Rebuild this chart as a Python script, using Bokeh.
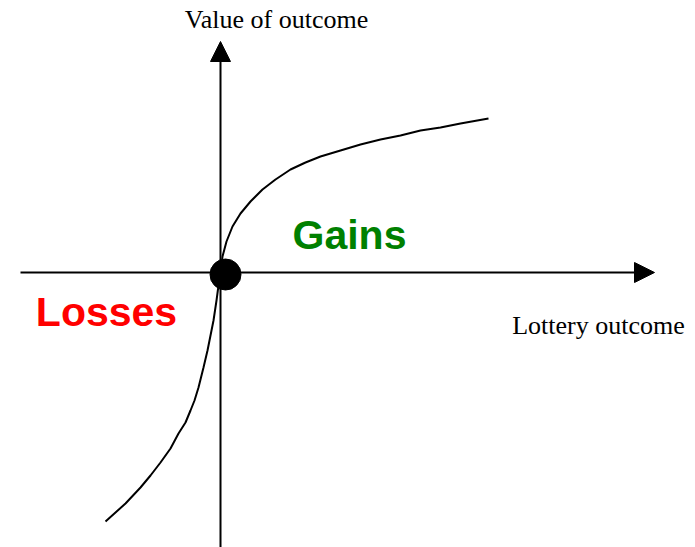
from bokeh.plotting import figure
from bokeh.models import Arrow, NormalHead
from bokeh.core.properties import value
from bokeh.embed import file_html
from bokeh.resources import INLINE

# Value function (prospect theory); origin = axis crossing
gain_x = [0, 2, 6, 12, 20, 30, 42, 55, 70, 85, 100, 120, 140, 160, 180, 200, 220, 240, 268]
gain_y = [0, 16, 31, 46, 59, 71, 83, 93, 103, 110, 116, 122, 128, 133, 137, 142, 145, 149, 154]
loss_x = [0, -2, -4, -7, -10, -13, -17, -22, -26, -30, -35, -42, -50, -60, -70, -80, -95, -115]
loss_y = [0, -13, -28, -48, -63, -78, -95, -115, -128, -138, -150, -161, -176, -190, -203, -215, -231, -249]

ref_x = [5]
ref_y = [-2]

labels = ["Value of outcome", "Lottery outcome"]
regions = ["Gains", "Losses"]

W, H = 695, 547
p = figure(width=W, height=H, x_range=(-220, -220 + W), y_range=(272 - H, 272),
           output_backend="svg", toolbar_location=None, min_border=0)
p.axis.visible = False
p.grid.visible = False
p.outline_line_color = None
p.background_fill_color = "white"
p.border_fill_color = "white"

# axes with arrow heads
p.add_layout(Arrow(end=NormalHead(size=20, fill_color="black", line_color="black", line_width=1),
                   x_start=-200, y_start=0, x_end=434, y_end=0,
                   line_color="black", line_width=2))
p.add_layout(Arrow(end=NormalHead(size=20, fill_color="black", line_color="black", line_width=1),
                   x_start=0, y_start=-290, x_end=0, y_end=231,
                   line_color="black", line_width=2))

curve_x = loss_x[::-1] + gain_x[1:]
curve_y = loss_y[::-1] + gain_y[1:]
p.line(curve_x, curve_y, line_color="black", line_width=2)

p.scatter(ref_x, ref_y, size=31, marker="circle", fill_color="black", line_color="black")

p.text(x=[56], y=[253], text=[labels[0]], text_font=value("Liberation Serif"),
       text_font_size="26px", text_align="center", text_baseline="alphabetic", text_color="black")
p.text(x=[378], y=[-53], text=[labels[1]], text_font=value("Liberation Serif"),
       text_font_size="26px", text_align="center", text_baseline="alphabetic", text_color="black")
p.text(x=[129], y=[38], text=[regions[0]], text_font=value("Liberation Sans"),
       text_font_size="41px", text_font_style="bold", text_align="center",
       text_baseline="alphabetic", text_color="#008000")
p.text(x=[-114], y=[-39], text=[regions[1]], text_font=value("Liberation Sans"),
       text_font_size="41px", text_font_style="bold", text_align="center",
       text_baseline="alphabetic", text_color="#FF0000")

open("out.html", "w").write(file_html(p, INLINE))
